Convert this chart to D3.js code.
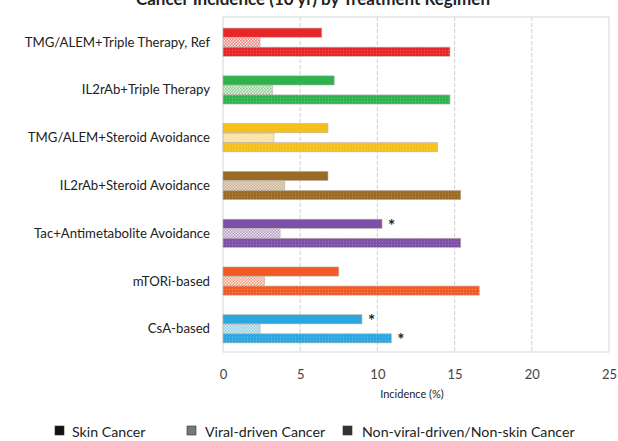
<!DOCTYPE html>
<html><head><meta charset="utf-8">
<script src="https://cdn.jsdelivr.net/npm/d3@7"></script>
<style>
html,body{margin:0;padding:0;background:#fff;}
svg{display:block;font-family:Lato,"Open Sans",sans-serif;}
</style></head>
<body><svg id="chart" width="618" height="441"></svg>
<script>
const categories = ["TMG/ALEM+Triple Therapy, Ref","IL2rAb+Triple Therapy","TMG/ALEM+Steroid Avoidance","IL2rAb+Steroid Avoidance","Tac+Antimetabolite Avoidance","mTORi-based","CsA-based"];
const colors = ["#e82628","#2eb24b","#f6c01c","#9b6a25","#7d4fa6","#f15a24","#2aa7df"];
const skinCancer = [6.4, 7.2, 6.8, 6.8, 10.3, 7.5, 9.0];
const viralCancer = [2.4, 3.2, 3.3, 4.0, 3.7, 2.7, 2.4];
const nonViralCancer = [14.7, 14.7, 13.9, 15.4, 15.4, 16.6, 10.9];
const skinStar = [false,false,false,false,true,false,true];
const viralStar = [false,false,false,false,false,false,false];
const nonViralStar = [false,false,false,false,false,false,true];
const seriesNames = ["Skin Cancer","Viral-driven Cancer","Non-viral-driven/Non-skin Cancer"];
const xTicks = [0,5,10,15,20,25];

const svg = d3.select("#chart");
const m = {left:223, right:609, top:17, bottom:352};
const x = d3.scaleLinear().domain([0,25]).range([m.left, m.right]);
const y = d3.scaleBand().domain(categories).range([m.top+2, m.bottom]).paddingInner(0.41).paddingOuter(0.19);
const keys = ["skin","viral","nonviral"];
const ySub = d3.scaleBand().domain(keys).range([0, y.bandwidth()]).paddingInner(0.04);

const defs = svg.append("defs");
colors.forEach((c,i)=>{
  const light = d3.interpolateRgb(c,"#ffffff")(0.35);
  const pv = defs.append("pattern").attr("id","pv"+i).attr("patternUnits","userSpaceOnUse").attr("width",3).attr("height",3);
  pv.append("rect").attr("width",3).attr("height",3).attr("fill","#fbf4f0");
  pv.append("rect").attr("width",1.6).attr("height",1.6).attr("fill",light);
  pv.append("rect").attr("x",1.5).attr("y",1.5).attr("width",1.5).attr("height",1.5).attr("fill",light);
  const pn = defs.append("pattern").attr("id","pn"+i).attr("patternUnits","userSpaceOnUse").attr("width",3).attr("height",3);
  pn.append("rect").attr("width",3).attr("height",3).attr("fill",c);
  pn.append("rect").attr("x",1).attr("y",1).attr("width",1).attr("height",1).attr("fill",d3.interpolateRgb(c,"#ffffff")(0.3));
});

// title (partly cut off at top, as in the reference)
svg.append("text").attr("x",313).attr("y",5).attr("text-anchor","middle").attr("font-size",17).attr("font-weight","bold").attr("fill","#222")
  .text("Cancer Incidence (10 yr) by Treatment Regimen");

// plot frame & grid
svg.append("rect").attr("x",m.left).attr("y",m.top).attr("width",m.right-m.left).attr("height",m.bottom-m.top)
  .attr("fill","none").attr("stroke","#d6d6d6").attr("stroke-width",1);
svg.append("g").selectAll("line").data(xTicks.slice(1,-1)).join("line")
  .attr("x1",d=>x(d)).attr("x2",d=>x(d)).attr("y1",m.top).attr("y2",m.bottom)
  .attr("stroke","#cfcfcf").attr("stroke-dasharray","4,2");

// axis
const ax = svg.append("g").attr("transform",`translate(0,${m.bottom+18})`)
  .call(d3.axisBottom(x).tickValues(xTicks).tickSize(0).tickPadding(0));
ax.select(".domain").remove();
ax.selectAll("text").attr("font-size",13).attr("fill","#444").attr("font-family","Lato,sans-serif");

svg.append("text").attr("x",412).attr("y",398).attr("text-anchor","middle").attr("font-size",11).attr("fill","#222").text("Incidence (%)");

// category labels
svg.append("g").selectAll("text").data(categories).join("text")
  .attr("x",210).attr("y",d=>y(d)+y.bandwidth()/2+4.5).attr("text-anchor","end")
  .attr("font-size",13.2).attr("fill","#222").text(d=>d);

// bars
const rows = categories.map((c,i)=>({c,i,vals:[
  {k:"skin",v:skinCancer[i],star:skinStar[i],fill:colors[i]},
  {k:"viral",v:viralCancer[i],star:viralStar[i],fill:`url(#pv${i})`},
  {k:"nonviral",v:nonViralCancer[i],star:nonViralStar[i],fill:`url(#pn${i})`}]}));
const g = svg.append("g").selectAll("g").data(rows).join("g").attr("transform",d=>`translate(0,${y(d.c)})`);
g.selectAll("rect").data(d=>d.vals).join("rect")
  .attr("x",x(0)).attr("y",d=>ySub(d.k)).attr("width",d=>x(d.v)-x(0)).attr("height",ySub.bandwidth())
  .attr("fill",d=>d.fill).attr("stroke","#b9b0a8").attr("stroke-width",0.6);
g.selectAll("text.star").data(d=>d.vals.filter(v=>v.star)).join("text").attr("class","star")
  .attr("x",d=>x(d.v)+6).attr("y",d=>ySub(d.k)+ySub.bandwidth()/2+8)
  .attr("font-size",17).attr("font-weight","bold").attr("fill","#222").text("*");

// legend
const leg = [{x:55,tx:72,i:0},{x:187,tx:205,i:1},{x:343,tx:362,i:2}];
const lg = svg.append("g");
leg.forEach((l,j)=>{
  const r = lg.append("rect").attr("x",l.x).attr("y",426).attr("width",9).attr("height",9).attr("stroke","#333").attr("stroke-width",0.6);
  if(j===0) r.attr("fill","#111");
  else if(j===1) r.attr("fill","#777");
  else r.attr("fill","#333");
  lg.append("text").attr("x",l.tx).attr("y",437).attr("font-size",14.2).attr("fill","#222").text(seriesNames[l.i]);
});
</script></body></html>
